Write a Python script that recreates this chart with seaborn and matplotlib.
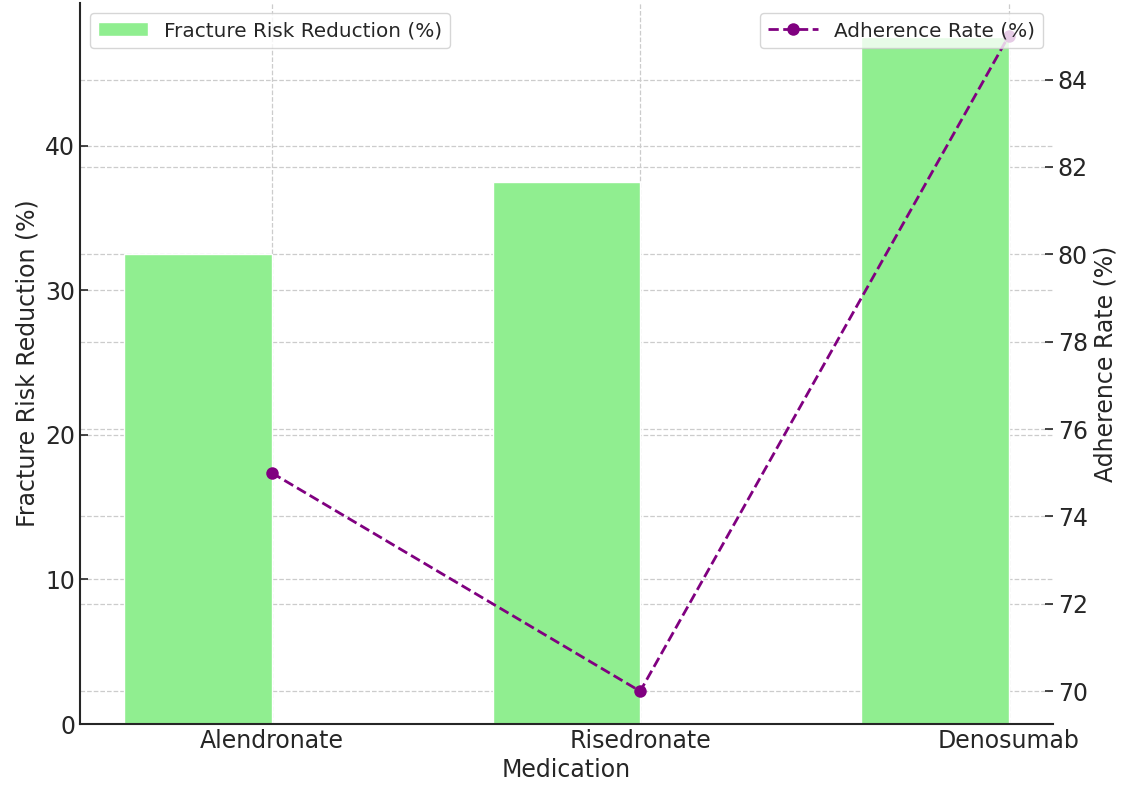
import numpy as np
import pandas as pd
import seaborn as sns
import matplotlib
matplotlib.use("Agg")
import matplotlib.pyplot as plt

# chart data
medications = ["Alendronate", "Risedronate", "Denosumab"]
risk_reduction = [32.5, 37.5, 47.5]
adherence = [75, 70, 85]

sns.set_style("ticks")
plt.rcParams["font.family"] = ["DejaVu Sans"]
plt.rcParams["xtick.direction"] = "in"
plt.rcParams["ytick.direction"] = "in"

df = pd.DataFrame({"Medication": medications,
                   "Fracture Risk Reduction (%)": risk_reduction,
                   "Adherence Rate (%)": adherence})
x = np.arange(len(medications))
bar_width = 0.4

fig, ax1 = plt.subplots(figsize=(11.21, 7.88), dpi=100)
fig.subplots_adjust(left=0.0714, right=0.9393, bottom=0.0812, top=0.996)

# right axis for ticks/grid sits underneath the bars
ax2 = ax1.twinx()
# third axis just for the line so it draws above the bars
ax3 = ax1.twinx()
ax3.sharey(ax2)
ax2.set_zorder(0)
ax1.set_zorder(1)
ax3.set_zorder(2)
ax1.patch.set_visible(False)
ax3.patch.set_visible(False)

ax1.bar(x - bar_width / 2, df["Fracture Risk Reduction (%)"], width=bar_width,
        color="lightgreen", label="Fracture Risk Reduction (%)")
sns.lineplot(x=x, y=df["Adherence Rate (%)"], ax=ax3, color="purple", marker="o",
             markersize=9, markeredgewidth=0, linestyle="--", linewidth=2,
             label="Adherence Rate (%)")

ax1.set_xticks(x)
ax1.set_xticklabels(medications)
ax1.set_xlim(-0.52, 2.12)
ax1.set_xlabel("Medication", fontsize=17, color="#262626", labelpad=4)
ax1.set_ylabel("Fracture Risk Reduction (%)", fontsize=17, color="#262626")
ax2.set_ylabel("Adherence Rate (%)", fontsize=17, color="#262626")
ax1.tick_params(labelsize=17, length=6, width=1.2, colors="#262626")
ax2.tick_params(labelsize=17, length=6, width=1.2, colors="#262626")
ax3.set_ylabel("")

grid_kw = dict(linestyle="--", color="#cccccc", linewidth=0.9)
ax1.grid(True, **grid_kw)
ax2.grid(True, axis="y", **grid_kw)
ax1.set_axisbelow(True)

for ax in (ax1, ax2, ax3):
    ax.spines["top"].set_visible(False)
    ax.spines["right"].set_visible(False)
ax1.spines["left"].set_linewidth(1.5)
ax1.spines["bottom"].set_linewidth(1.5)
ax2.spines["left"].set_visible(False)
ax2.spines["bottom"].set_visible(False)
ax3.spines["left"].set_visible(False)
ax3.spines["bottom"].set_visible(False)
ax3.tick_params(left=False, right=False, labelleft=False, labelright=False,
                bottom=False, labelbottom=False)

ax1.legend(loc="upper left", fontsize=14.4, handlelength=2.5)
ax3.legend(loc="upper right", fontsize=14.4, handlelength=2.5)

fig.savefig("out.png", dpi=100)
